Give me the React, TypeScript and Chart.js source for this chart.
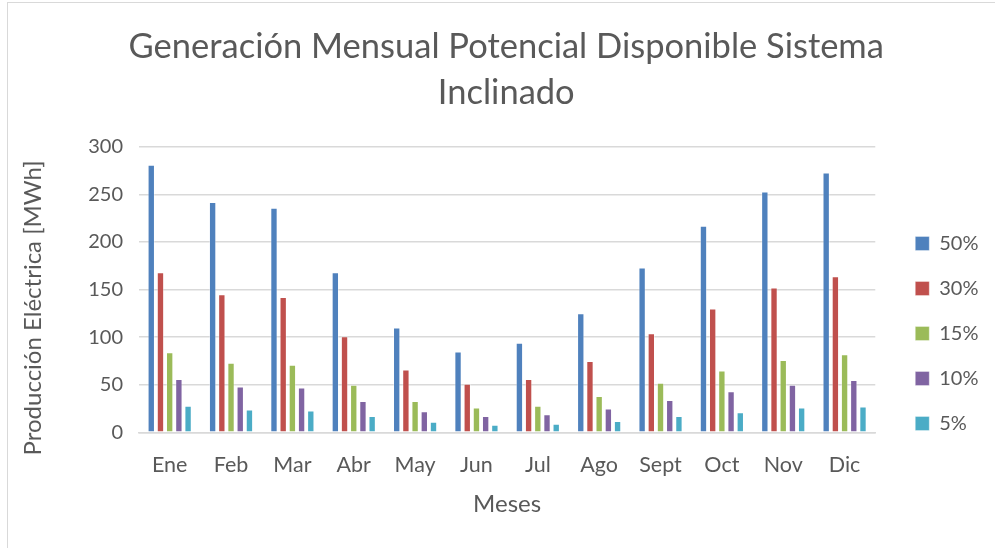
import React, { useEffect, useRef } from "react";
import { Chart, registerables } from "chart.js";

Chart.register(...registerables);

const months = ["Ene", "Feb", "Mar", "Abr", "May", "Jun", "Jul", "Ago", "Sept", "Oct", "Nov", "Dic"];
const s50 = [281, 242, 236, 168, 110, 85, 94, 125, 173, 217, 253, 273];
const s30 = [168, 145, 142, 101, 66, 51, 56, 75, 104, 130, 152, 164];
const s15 = [84, 73, 71, 50, 33, 26, 28, 38, 52, 65, 76, 82];
const s10 = [56, 48, 47, 33, 22, 17, 19, 25, 34, 43, 50, 55];
const s05 = [28, 24, 23, 17, 11, 8, 9, 12, 17, 21, 26, 27];
const seriesNames = ["50%", "30%", "15%", "10%", "5%"];
const seriesColors = ["#4F81BD", "#C0504D", "#9BBB59", "#8064A2", "#4BACC6"];
const titleLines = ["Generación Mensual Potencial Disponible Sistema", "Inclinado"];
const yTitle = "Producción Eléctrica [MWh]";
const xTitle = "Meses";

const FONT = "Lato, 'Open Sans', sans-serif";
const TEXT = "#595959";

export default function App() {
  const ref = useRef<HTMLCanvasElement | null>(null);
  useEffect(() => {
    if (!ref.current) return;
    const all = [s50, s30, s15, s10, s05];
    const chart = new Chart(ref.current, {
      type: "bar",
      data: {
        labels: months,
        datasets: all.map((d, i) => ({
          label: seriesNames[i],
          data: d,
          backgroundColor: seriesColors[i],
          borderColor: "rgba(255,255,255,0.35)",
          borderWidth: 1,
          categoryPercentage: 0.75,
          barPercentage: 0.8,
          yAxisID: "y",
        })),
      },
      options: {
        responsive: false,
        animation: false,
        layout: { padding: { left: 24, top: 0, right: 6.5, bottom: 0 } },
        plugins: {
          title: {
            display: true,
            text: titleLines,
            color: TEXT,
            font: { family: FONT, size: 34.5, weight: "normal", lineHeight: 46 / 34.5 },
            padding: { top: 24.2, bottom: 30.5 },
          },
          legend: {
            position: "right",
            title: {
              display: true,
              text: " ",
              font: { size: 10, lineHeight: 1.2 },
              padding: { top: 107, bottom: 0 },
            },
            labels: {
              boxWidth: 14,
              boxHeight: 14,
              padding: 25,
              color: TEXT,
              font: { family: FONT, size: 20 },
            },
          },
          tooltip: { enabled: false },
        },
        scales: {
          x: {
            grid: { display: false, drawTicks: false },
            border: { display: true, color: "#d9d9d9", width: 1.5 },
            ticks: { color: TEXT, font: { family: FONT, size: 21.5 }, padding: 19.5, maxRotation: 0 },
            title: {
              display: true,
              text: xTitle,
              color: TEXT,
              font: { family: FONT, size: 24 },
              padding: { top: 0, bottom: 29.6 },
            },
            afterFit: (s: any) => {
              s.height = 115.7;
            },
          },
          y: {
            min: 0,
            max: 300,
            ticks: { stepSize: 50, color: TEXT, font: { family: FONT, size: 20 }, padding: 16 },
            grid: { color: "#d9d9d9", lineWidth: 1.5, drawTicks: false },
            border: { display: false },
            title: {
              display: true,
              text: yTitle + "      ",
              color: TEXT,
              font: { family: FONT, size: 24 },
              padding: { top: -5.4, bottom: 0 },
            },
            afterFit: (s: any) => {
              s.width = 115;
            },
          },
          yDummy: {
            position: "right",
            display: true,
            grid: { display: false, drawTicks: false },
            border: { display: false },
            ticks: { display: false },
            afterFit: (s: any) => {
              s.width = 15;
            },
          },
        },
      },
    } as any);
    return () => chart.destroy();
  }, []);

  return (
    <div style={{ position: "fixed", left: 0, top: 0, width: 995, height: 548, overflow: "hidden", background: "#fff" }}>
      <div
        style={{
          position: "absolute",
          left: 7,
          top: 2,
          width: 1000,
          height: 600,
          border: "1px solid #d9d9d9",
          boxSizing: "border-box",
        }}
      />
      <canvas ref={ref} width={995} height={548} style={{ position: "absolute", left: 0, top: 0 }} />
    </div>
  );
}
